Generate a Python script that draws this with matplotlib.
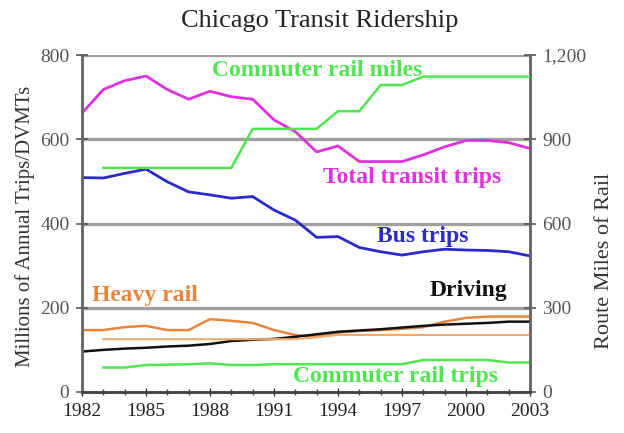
import matplotlib
matplotlib.use("Agg")
import matplotlib.pyplot as plt
from matplotlib.ticker import MultipleLocator, FuncFormatter

years = list(range(1982, 2004))
total_transit = [662, 718, 739, 750, 718, 695, 714, 701, 695, 646, 618, 570,
                 584, 547, 547, 547, 563, 582, 597, 597, 592, 578]
bus_trips = [509, 508, 519, 529, 499, 475, 468, 460, 464, 432, 408, 367,
             369, 343, 333, 325, 333, 339, 337, 336, 333, 323]
heavy_rail = [147, 147, 154, 157, 147, 147, 173, 169, 164, 147, 135, 131,
              141, 145, 147, 150, 154, 167, 176, 179, 179, 179]
driving = [96, 100, 103, 105, 108, 110, 114, 121, 124, 126, 131, 137,
           143, 146, 149, 153, 157, 160, 162, 164, 167, 167]
rail_years = list(range(1983, 2004))
commuter_trips = [58, 58, 64, 65, 66, 68, 64, 64, 66, 66, 66, 66,
                  66, 66, 66, 76, 76, 76, 76, 70, 70]
# right axis (route miles)
commuter_miles = [798, 798, 798, 798, 798, 798, 798, 937, 937, 937, 937, 1000,
                  1000, 1093, 1093, 1123, 1123, 1123, 1123, 1123, 1123]
heavy_miles = [188, 188, 188, 188, 188, 188, 188, 188, 188, 188, 195, 203,
               203, 203, 203, 203, 203, 203, 203, 203, 203]

serif = ["Liberation Serif", "DejaVu Serif"]
plt.rcParams["font.family"] = serif

fig = plt.figure(figsize=(6.24, 4.33), dpi=100)
ax = fig.add_axes([82/624, 41/433, 448/624, 337/433])
ax2 = ax.twinx()

ax.set_xlim(1982, 2003)
ax.set_ylim(0, 800)
ax2.set_ylim(0, 1200)

for v in [200, 400, 600, 800]:
    ax.axhline(v, color="#a0a0a0", lw=2.4, zorder=0)

magenta = "#e030e0"
blue = "#2a2ac8"
green = "#50e650"
orange = "#e8843c"
lorange = "#f2aa6c"

ax.plot(years, total_transit, color=magenta, lw=2, zorder=3)
ax.plot(years, bus_trips, color=blue, lw=2, zorder=3)
ax.plot(years, heavy_rail, color=orange, lw=1.8, zorder=3)
ax.plot(years, driving, color="#111111", lw=1.8, zorder=4)
ax.plot(rail_years, commuter_trips, color=green, lw=1.8, zorder=3)
ax2.plot(rail_years, commuter_miles, color=green, lw=1.8, zorder=3)
ax2.plot(rail_years, heavy_miles, color=lorange, lw=1.5, zorder=2)

ax.set_xticks([1982, 1985, 1988, 1991, 1994, 1997, 2000, 2003])
ax.xaxis.set_minor_locator(MultipleLocator(1))
ax.set_yticks([0, 200, 400, 600, 800])
ax2.set_yticks([0, 300, 600, 900, 1200])
ax2.yaxis.set_major_formatter(FuncFormatter(lambda v, p: f"{int(v):,}"))

ax.tick_params(axis="x", which="both", direction="inout", length=6, width=1,
               labelsize=14, pad=5, colors="#333333")
ax.tick_params(axis="x", which="minor", length=5)
ax.tick_params(axis="y", direction="inout", length=8, width=1.2,
               labelsize=14, colors="#555555", pad=5)
ax2.tick_params(axis="y", direction="inout", length=8, width=1.2,
                labelsize=14, colors="#555555", pad=5)
for lab in ax.get_xticklabels():
    lab.set_color("#222222")

for a in (ax, ax2):
    a.spines["top"].set_visible(False)
    a.spines["left"].set_color("#666666")
    a.spines["left"].set_linewidth(1.8)
    a.spines["right"].set_color("#666666")
    a.spines["right"].set_linewidth(1.8)
    a.spines["bottom"].set_color("#444444")
    a.spines["bottom"].set_linewidth(1.8)

ax.set_ylabel("Millions of Annual Trips/DVMTs", fontsize=15, color="#333333")
ax.yaxis.set_label_coords(-0.105, 0.49)
ax2.set_ylabel("Route Miles of Rail", fontsize=16, color="#333333")
ax2.yaxis.set_label_coords(1.145, 0.39)

fig.text(320/624, 1 - 21/433, "Chicago Transit Ridership", ha="center", va="center",
         fontsize=19, color="#222222")

kw = dict(fontsize=17, fontweight="bold", transform=ax.transData,
          va="center", ha="left")
ax.text(1988.09, 764, "Commuter rail miles", color=green, **kw)
ax.text(1993.3, 510, "Total transit trips", color=magenta, **kw)
ax.text(1995.83, 368, "Bus trips", color=blue, **kw)
ax.text(1982.47, 230, "Heavy rail", color=orange, **kw)
ax.text(1998.31, 242, "Driving", color="#111111", **kw)
ax.text(1991.89, 36, "Commuter rail trips", color=green, **kw)

fig.savefig("out.png", dpi=100)
